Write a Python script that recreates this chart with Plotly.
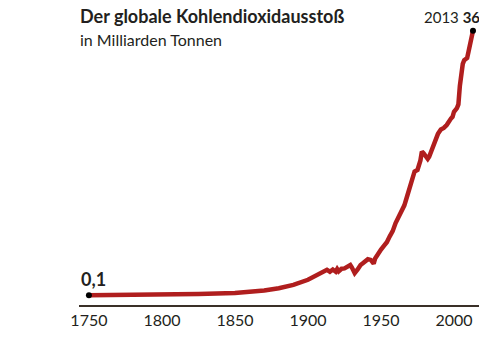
import plotly.graph_objects as go

years = [1750, 1775, 1800, 1825, 1850, 1860, 1870, 1880, 1890, 1900, 1905, 1910, 1913,
         1915, 1917, 1919, 1920, 1921, 1923, 1925, 1927, 1929, 1930, 1932, 1934, 1936,
         1938, 1940, 1941, 1943, 1945, 1946, 1948, 1950, 1952, 1954, 1956, 1958, 1960,
         1962, 1964, 1966, 1968, 1970, 1972, 1973, 1974, 1975, 1977, 1978, 1979, 1980,
         1981, 1982, 1983, 1985, 1987, 1989, 1991, 1993, 1995, 1997, 1998, 1999, 2000,
         2002, 2003, 2004, 2005, 2006, 2007, 2008, 2009, 2010, 2011, 2012, 2013]
emissions = [0.1, 0.12, 0.2, 0.28, 0.4, 0.55, 0.75, 1.05, 1.5, 2.2, 2.7, 3.2, 3.55,
             3.3, 3.6, 3.3, 3.65, 3.35, 3.7, 3.75, 3.95, 4.2, 3.9, 3.1, 3.6, 4.2,
             4.5, 4.8, 5.0, 4.9, 4.4, 5.1, 5.8, 6.3, 6.8, 7.3, 8.1, 8.8, 9.9,
             10.7, 11.7, 12.3, 13.6, 15.0, 16.2, 16.9, 17.0, 17.1, 18.4, 19.6, 19.4, 19.2,
             18.8, 18.6, 18.9, 20.0, 21.1, 22.0, 22.6, 22.8, 23.2, 24.0, 24.1, 24.3, 25.0,
             25.5, 26.0, 28.5, 30.6, 31.5, 32.0, 32.1, 32.3, 33.2, 34.0, 34.8, 36.0]
tick_years = [1750, 1800, 1850, 1900, 1950, 2000]
tick_labels = ["1750", "1800", "1850", "1900", "1950", "2000"]
title = "<b>Der globale Kohlendioxidausstoß</b>"
subtitle = "in Milliarden Tonnen"
start_label = "<b>0,1</b>"
end_label = "2013 <b>36</b>"

FONT = "Lato, Roboto, sans-serif"
INK = "#231f20"
RED = "#b01e1e"

fig = go.Figure()
fig.add_trace(go.Scatter(x=years, y=emissions, mode="lines",
                         line=dict(color=RED, width=4.5), hoverinfo="skip"))
fig.add_trace(go.Scatter(x=[years[0], years[-1]], y=[emissions[0], emissions[-1]],
                         mode="markers", marker=dict(color="black", size=6),
                         hoverinfo="skip"))

fig.add_annotation(x=0.0, y=1.0, xref="paper", yref="paper", yshift=22, xshift=-1,
                   text=title, showarrow=False, xanchor="left", yanchor="top",
                   font=dict(family=FONT, size=18, color=INK))
fig.add_annotation(x=0.0, y=1.0, xref="paper", yref="paper", yshift=-3, xshift=-1,
                   text=subtitle, showarrow=False, xanchor="left", yanchor="top",
                   font=dict(family=FONT, size=16, color=INK))
fig.add_annotation(x=years[0], y=emissions[0], xref="x", yref="y",
                   text=start_label, showarrow=False, xanchor="left", yanchor="bottom",
                   xshift=-10, yshift=3, font=dict(family=FONT, size=18, color=INK))
fig.add_annotation(x=years[-1], y=emissions[-1], xref="x", yref="y",
                   text=end_label, showarrow=False, xanchor="right", yanchor="bottom",
                   xshift=9, yshift=3, font=dict(family=FONT, size=15, color=INK))

fig.update_layout(
    width=479, height=352,
    margin=dict(l=71, r=7, t=17, b=55),
    paper_bgcolor="white", plot_bgcolor="white",
    showlegend=False,
    xaxis=dict(range=[1743.2, 2017.8], tickvals=tick_years, ticktext=tick_labels,
               showgrid=False, zeroline=False, showline=True, linecolor="#3a3028",
               linewidth=1.5, ticks="", tickfont=dict(family=FONT, size=16, color=INK),
               fixedrange=True),
    yaxis=dict(range=[-1.22, 36.77], visible=False, showgrid=False, zeroline=False,
               fixedrange=True),
)
fig.write_html("out.html")
